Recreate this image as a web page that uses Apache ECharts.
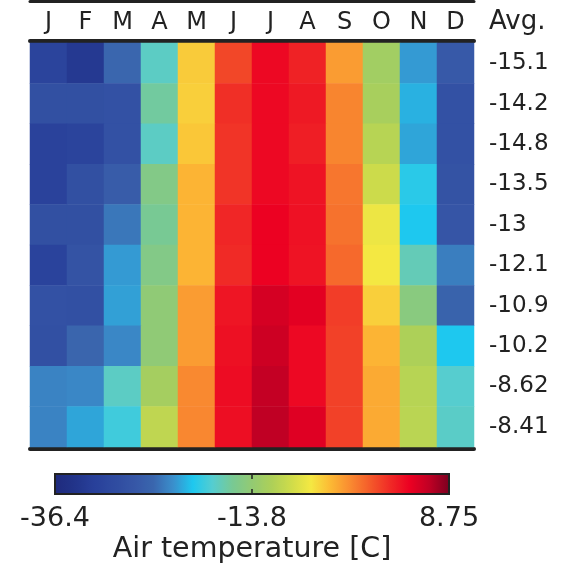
<!DOCTYPE html>
<html><head><meta charset="utf-8">
<script src="https://cdn.jsdelivr.net/npm/echarts@6/dist/echarts.min.js"></script>
<style>html,body{margin:0;padding:0;background:#fff}#c{width:565px;height:565px}</style>
</head><body><div id="c"></div>
<script>
const months = ['J','F','M','A','M','J','J','A','S','O','N','D'];
const rowIds = ['1','2','3','4','5','6','7','8','9','10'];
const avgLabels = ['-15.1','-14.2','-14.8','-13.5','-13','-12.1','-10.9','-10.2','-8.62','-8.41'];
const row1 = [-31, -33.2, -25.1, -17.9, -5.7, 0.6, 3.8, 2.4, -3.4, -12.5, -22.4, -26.9];
const row2 = [-28.7, -28.7, -28.3, -16.5, -5.9, 1.75, 3.8, 2.9, -2.3, -12, -21.5, -28.3];
const row3 = [-31.4, -31, -28.3, -17.9, -5.5, 1.5, 3.8, 2.6, -2.3, -10.9, -22, -28.3];
const row4 = [-31.4, -28.7, -26.5, -15.2, -4.6, 1.5, 3.8, 3.2, -1.6, -9.5, -20.1, -28];
const row5 = [-28.7, -28.7, -24.2, -16.1, -4.6, 2.2, 4.2, 3.3, -1.4, -7.5, -20.6, -27.5];
const row6 = [-31.2, -28, -22.4, -15.2, -4.6, 2.0, 4.2, 3.2, -1, -7.1, -17.4, -23.8];
const row7 = [-28.3, -28.5, -22.2, -14.1, -3.4, 3.1, 5.4, 4.7, 1.1, -5.9, -14.7, -25.6];
const row8 = [-28.5, -25.3, -23.3, -14.1, -3.4, 3.4, 5.8, 3.8, 0.9, -4.6, -11.6, -20.6];
const row9 = [-23.5, -23.3, -17.9, -12.3, -2.5, 3.6, 6.3, 3.8, 0.9, -4.1, -10.9, -18.3];
const row10 = [-23.5, -22, -19.2, -10.4, -2.4, 3.5, 6.5, 4.9, 0.9, -4.1, -10.7, -18];
const rows = [row1,row2,row3,row4,row5,row6,row7,row8,row9,row10];
const colorMin = -36.4, colorMax = 8.75;
const colorbarTicks = [-36.4, -13.825, 8.75];
const colorbarTickLabels = ['-36.4','-13.8','8.75'];
const palette = ['#1f2a7c','#22348a','#28409a','#2f4ba0','#3656a6','#3a66ae','#3a8fcc','#1ec8ef','#55cdd0','#78c994','#93ca72','#add058','#cfdc4a','#f5e842','#fcb834','#f98a30','#f45a2a','#f02a26','#ec0022','#c00024','#7c0020'];

const data = [];
rows.forEach((r, ri) => r.forEach((v, ci) => data.push([ci, ri, v])));

const txt = '#222';
const font = 'DejaVu Sans';
const chart = echarts.init(document.getElementById('c'), null, {renderer:'canvas'});
chart.setOption({
  animation: false,
  textStyle: {fontFamily: font, color: txt},
  grid: [
    {left: 30, top: 43, width: 444, height: 404},
    {left: 55, top: 474, width: 394, height: 20, show:true, z:10,
     backgroundColor:'transparent', borderColor:txt, borderWidth:2}
  ],
  xAxis: [
    {type:'category', data: months, gridIndex:0, position:'top', offset:2,
     axisLine:{lineStyle:{color:txt, width:4}}, axisTick:{show:false},
     axisLabel:{fontSize:24, color:txt, fontFamily:font, margin:6, interval:0}, splitLine:{show:false}},
    {type:'category', data: months, gridIndex:0, position:'bottom', offset:2,
     axisLine:{lineStyle:{color:txt, width:4}}, axisTick:{show:false}, axisLabel:{show:false}},
    {type:'category', data: months, gridIndex:0, position:'top', offset:41.5,
     axisLine:{lineStyle:{color:txt, width:3}}, axisTick:{show:false}, axisLabel:{show:false}},
    {type:'value', gridIndex:1, min:colorMin, max:colorMax, position:'bottom', z:11,
     axisLine:{show:false}, splitLine:{show:false},
     axisTick:{show:true, inside:true, length:5, customValues:[colorbarTicks[1]], lineStyle:{color:txt, width:1.5}},
     axisLabel:{customValues: colorbarTicks, fontSize:27, color:txt, fontFamily:font, margin:11,
       formatter: v => colorbarTickLabels[colorbarTicks.indexOf(v)]},
     name:'Air temperature [C]', nameLocation:'middle', nameGap:41,
     nameTextStyle:{fontSize:28.5, color:txt, fontFamily:font}},
    {type:'value', gridIndex:1, min:colorMin, max:colorMax, position:'top', z:11,
     axisLine:{show:false}, splitLine:{show:false}, axisLabel:{show:false},
     axisTick:{show:true, inside:true, length:5, customValues:[colorbarTicks[1]], lineStyle:{color:txt, width:1.5}}}
  ],
  yAxis: [
    {type:'category', data: rowIds, gridIndex:0, inverse:true, show:false},
    {type:'category', data: avgLabels, gridIndex:0, inverse:true, position:'right',
     axisLine:{show:false}, axisTick:{show:false}, splitLine:{show:false},
     axisLabel:{fontSize:23, color:txt, fontFamily:font, margin:15, align:'left', interval:0}},
    {type:'value', gridIndex:1, show:false}
  ],
  visualMap: {
    type:'continuous', min:colorMin, max:colorMax, orient:'horizontal',
    left:55, top:474, itemWidth:20, itemHeight:394, calculable:false,
    padding:0, hoverLink:false, seriesIndex:0,
    inRange:{color: palette}
  },
  graphic: [
    {type:'text', left:489, top:9, style:{text:'Avg.', fontSize:26, fontFamily:font, fill:txt}}
  ],
  series: [{
    type:'heatmap', xAxisIndex:0, yAxisIndex:0, data: data,
    itemStyle:{borderWidth:0}, emphasis:{disabled:true}
  }]
});
</script></body></html>
